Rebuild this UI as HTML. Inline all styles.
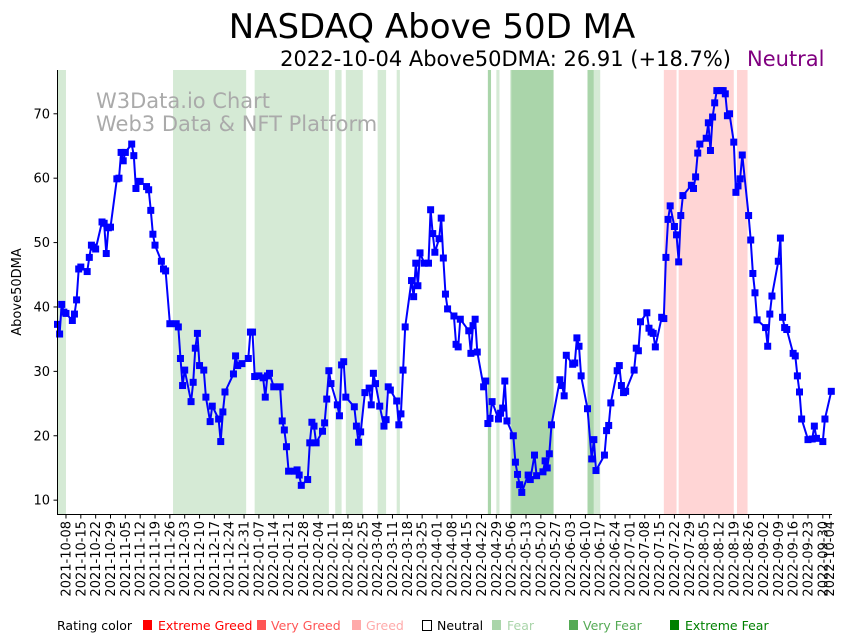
<!DOCTYPE html>
<html><head><meta charset="utf-8"><style>
html,body{margin:0;padding:0;background:#fff;}
svg{display:block;font-family:"DejaVu Sans","Liberation Sans",sans-serif;}
</style></head><body>
<svg id="chart" width="852" height="641" viewBox="0 0 852 641" xmlns="http://www.w3.org/2000/svg">
<text x="432" y="38" font-size="34" text-anchor="middle" fill="#000">NASDAQ Above 50D MA</text>
<text x="731" y="66" font-size="21" text-anchor="end" fill="#000">2022-10-04 Above50DMA: 26.91 (+18.7%)</text>
<text x="747" y="66" font-size="21" fill="#800080">Neutral</text>
<g id="bands"></g>
<text x="96" y="108" font-size="21" fill="#aaaaaa">W3Data.io Chart</text>
<text x="96" y="131" font-size="21" fill="#aaaaaa">Web3 Data &amp; NFT Platform</text>
<g id="yaxis"></g>
<g id="xaxis"></g>
<g id="series"></g>
<line x1="57.5" y1="70" x2="57.5" y2="514.5" stroke="#000" stroke-width="1"/>
<line x1="57" y1="514.5" x2="832" y2="514.5" stroke="#000" stroke-width="1"/>
<text transform="translate(21,292) rotate(-90)" font-size="13" text-anchor="middle" fill="#000">Above50DMA</text>
<g id="legend">
<text x="57" y="630" font-size="12.5" fill="#000">Rating color</text>
<rect x="143" y="620" width="9" height="10" fill="#ff0000"/>
<text x="158" y="630" font-size="12.5" fill="#ff0000">Extreme Greed</text>
<rect x="257" y="620" width="9" height="10" fill="#ff5555"/>
<text x="271" y="630" font-size="12.5" fill="#ff5555">Very Greed</text>
<rect x="352" y="620" width="9" height="10" fill="#ffaaaa"/>
<text x="366" y="630" font-size="12.5" fill="#ffaaaa">Greed</text>
<rect x="422.5" y="620.5" width="9" height="10" fill="#fff" stroke="#000" stroke-width="1"/>
<text x="437" y="630" font-size="12.5" fill="#000">Neutral</text>
<rect x="492" y="620" width="9" height="10" fill="#aad5aa"/>
<text x="507" y="630" font-size="12.5" fill="#aad5aa">Fear</text>
<rect x="569" y="620" width="9" height="10" fill="#55aa55"/>
<text x="583" y="630" font-size="12.5" fill="#55aa55">Very Fear</text>
<rect x="670" y="620" width="9" height="10" fill="#008000"/>
<text x="685" y="630" font-size="12.5" fill="#008000">Extreme Fear</text>
</g>
</svg>
<script>
// days since 2021-10-04
const dayOffsets = [0,1,2,3,4,7,8,9,10,11,14,15,16,17,18,21,22,23,24,25,28,29,30,31,32,35,36,37,38,39,42,43,44,45,46,49,50,51,53,56,57,58,59,60,63,64,65,66,67,69,70,72,73,76,77,78,79,83,84,85,87,90,91,92,93,95,97,98,99,100,102,105,106,107,108,109,112,113,114,115,118,119,120,121,122,125,126,127,128,129,132,133,134,135,136,140,141,142,143,145,147,148,149,150,152,154,155,156,157,160,161,162,163,164,167,168,169,170,171,173,175,176,177,178,180,181,182,183,184,187,188,189,190,194,195,196,197,198,201,202,203,204,205,208,209,210,211,212,215,216,217,218,219,222,223,225,226,229,230,231,232,233,237,238,239,240,243,244,245,246,247,250,252,253,254,258,259,260,261,264,265,266,267,268,272,273,274,275,278,279,280,281,282,285,286,287,288,289,291,292,293,294,295,299,300,301,302,303,306,307,308,309,310,311,313,314,315,316,317,319,320,321,322,323,326,327,328,329,330,334,335,336,337,340,341,342,343,344,347,348,349,350,351,354,356,357,358,361,362,365];
const values = [37.3,35.8,40.4,39.2,39.0,37.9,38.9,41.1,45.9,46.2,45.5,47.7,49.6,49.3,49.0,53.2,53.0,48.3,52.3,52.4,59.9,60.0,64.0,62.7,64.0,65.3,63.5,58.4,59.5,59.5,58.7,58.2,55.0,51.3,49.6,47.1,45.9,45.6,37.4,37.4,36.9,32.0,27.8,30.2,25.3,28.3,33.6,35.9,30.9,30.2,26.0,22.2,24.6,22.6,19.1,23.7,26.8,29.6,32.4,30.9,31.2,32.0,36.1,36.1,29.2,29.3,29.0,26.0,29.3,29.7,27.6,27.6,22.3,20.9,18.3,14.5,14.5,14.7,13.9,12.3,13.2,18.9,22.1,21.5,18.9,20.7,22.0,25.7,30.1,28.1,24.8,23.1,31.0,31.5,26.0,24.5,21.5,19.0,20.6,26.7,27.4,24.8,29.7,28.1,24.6,21.5,22.5,27.6,27.1,25.4,21.7,23.4,30.2,36.9,44.1,41.6,46.8,43.3,48.4,46.8,46.8,55.1,51.4,48.5,50.6,53.8,47.6,42.0,39.7,38.6,34.2,33.8,38.1,36.3,32.8,37.1,38.1,33.0,27.6,28.5,21.9,22.7,25.3,22.6,23.5,24.3,28.5,22.3,20.0,15.9,14.0,12.4,11.2,13.9,13.2,17.0,13.8,14.4,16.1,15.0,17.2,21.7,28.7,27.8,26.2,32.5,31.1,31.3,35.2,33.9,29.3,24.2,16.4,19.4,14.6,17.0,20.8,21.6,25.1,30.1,30.9,27.8,26.7,26.9,30.2,33.6,33.2,37.7,39.1,36.7,36.1,35.9,33.8,38.4,38.2,47.7,53.6,55.7,52.5,51.2,47.0,54.2,57.3,58.9,58.4,60.2,63.9,65.3,66.2,68.6,64.3,69.5,71.7,73.6,73.6,73.6,73.1,69.7,70.0,65.6,57.8,58.8,59.9,63.6,54.2,50.4,45.2,42.2,38.0,36.8,33.9,38.9,41.7,47.1,50.7,38.4,36.8,36.5,32.8,32.4,29.3,26.8,22.6,19.4,19.5,21.5,19.6,19.1,22.6,26.9,26.91];
// rating bands (day offsets)
const bandStarts = [-1,54.5,93,131,136,151,160,203,207,213.5,214,250,253,254.5,286,293,320.5];
const bandEnds   = [4,89,128,134,144,155,161.5,204.5,208.5,214,234,253,254.5,256,292,319,325.5];
const bandRatings = ["fear","fear","fear","fear","fear","fear","fear","very-fear","fear","fear","very-fear","very-fear","fear","fear","greed","greed","greed"];
const yTicks = [10,20,30,40,50,60,70];

const NS="http://www.w3.org/2000/svg";
const X0=57.5, PX_PER_DAY=2.12, YMIN=7.85, YMAX=76.8, YTOP=70, YBOT=514;
function xScale(d){return X0+d*PX_PER_DAY;}
function yScale(v){return YBOT-(v-YMIN)/(YMAX-YMIN)*(YBOT-YTOP);}
function mk(tag,attrs,parent){const e=document.createElementNS(NS,tag);for(const k in attrs)e.setAttribute(k,attrs[k]);parent.appendChild(e);return e;}
const bandColor={"fear":"#d5ead5","very-fear":"#aad5aa","greed":"#ffd5d5"};

const gb=document.getElementById('bands');
bandStarts.forEach((s,i)=>{
  const x1=Math.max(57.5,xScale(s)), x2=Math.min(832,xScale(bandEnds[i]));
  const r=mk('rect',{x:x1,y:YTOP,width:Math.max(0,x2-x1),height:YBOT-YTOP,fill:bandColor[bandRatings[i]]},gb);
  
  
});

const gy=document.getElementById('yaxis');
yTicks.forEach(t=>{
  const y=yScale(t);
  const l=mk('line',{x1:53.5,x2:57.5,y1:y,y2:y,stroke:'#000','stroke-width':1},gy);
  
  
  const tx=mk('text',{x:50,y:y+4.5,'font-size':13,'text-anchor':'end',fill:'#000'},gy);
  tx.textContent=t;
  
  
});

const gx=document.getElementById('xaxis');
const start=Date.UTC(2021,9,4);
function fmt(d){const dt=new Date(start+d*86400000);return dt.toISOString().slice(0,10);}
const tickDays=[];
for(let d=4;d<=361;d+=7)tickDays.push(d);
tickDays.push(364.2);
tickDays.forEach(d=>{
  const x=xScale(d);
  const l=mk('line',{x1:x,x2:x,y1:514.5,y2:518.5,stroke:'#000','stroke-width':1},gx);
  
  
  const tx=mk('text',{transform:`translate(${x+4.5},521) rotate(-90)`,'font-size':13,'text-anchor':'end',fill:'#000'},gx);
  tx.textContent=fmt(Math.round(d>364?365:d));
  
  
});

const gs=document.getElementById('series');
const pts=dayOffsets.map((d,i)=>xScale(d).toFixed(1)+','+yScale(values[i]).toFixed(1)).join(' ');
const pl=mk('polyline',{points:pts,fill:'none',stroke:'#0000ff','stroke-width':2,'stroke-linejoin':'round'},gs);


dayOffsets.forEach((d,i)=>{
  const r=mk('rect',{x:xScale(d)-3.5,y:yScale(values[i])-3.5,width:7,height:7,fill:'#0000ff'},gs);
  
  
});
</script>
</body></html>
